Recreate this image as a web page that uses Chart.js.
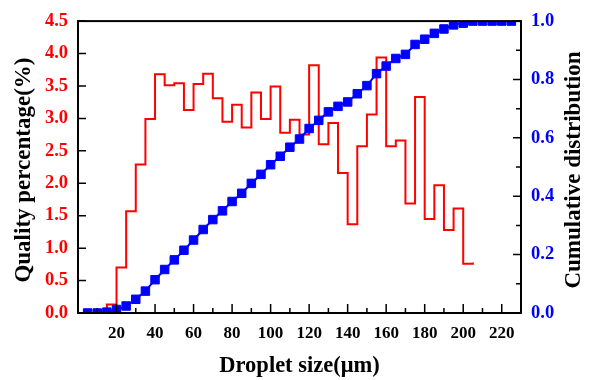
<!DOCTYPE html>
<html lang="en">
<head>
    <meta charset="UTF-8">
    <title>Droplet Size Distribution</title>
    <script src="https://cdn.jsdelivr.net/npm/chart.js"></script>
    <style>
        body {
            margin: 0;
            background: #fff;
        }

        .wrap {
            position: relative;
            width: 589px;
            height: 380px;
        }
    </style>
</head>
<body>

<div class="wrap">
    <canvas id="dropChart"></canvas>
</div>

<script>
    // histogram bins (left edge of each 5 um bin) and their percentage
    const binStart = [5, 10, 15, 20, 25, 30, 35, 40, 45, 50, 55, 60, 65, 70, 75, 80, 85, 90, 95, 100,
                      105, 110, 115, 120, 125, 130, 135, 140, 145, 150, 155, 160, 165, 170, 175, 180,
                      185, 190, 195, 200, 205];
    const qualityPct = [0, 0, 0.13, 0.70, 1.57, 2.29, 2.99, 3.68, 3.51, 3.54, 3.13, 3.53, 3.69, 3.31,
                        2.95, 3.21, 2.86, 3.40, 2.99, 3.49, 2.78, 2.98, 2.75, 3.82, 2.60, 2.93, 2.16,
                        1.37, 2.57, 3.06, 3.94, 2.57, 2.66, 1.69, 3.33, 1.45, 1.97, 1.28, 1.61, 0.76, 0.78];

    // cumulative distribution points
    const sizePoints = [5, 10, 15, 20, 25, 30, 35, 40, 45, 50, 55, 60, 65, 70, 75, 80, 85, 90, 95, 100,
                        105, 110, 115, 120, 125, 130, 135, 140, 145, 150, 155, 160, 165, 170, 175, 180,
                        185, 190, 195, 200, 205, 210, 215, 220, 225];
    const cumDist = [0, 0, 0.003, 0.012, 0.024, 0.047, 0.075, 0.114, 0.149, 0.182, 0.215, 0.25, 0.286,
                     0.32, 0.35, 0.382, 0.41, 0.444, 0.475, 0.508, 0.537, 0.568, 0.596, 0.632, 0.66,
                     0.689, 0.708, 0.723, 0.751, 0.779, 0.82, 0.846, 0.872, 0.886, 0.92, 0.938, 0.958,
                     0.973, 0.987, 0.993, 1.0, 1.0, 1.0, 1.0, 1.0];

    const xTickLabels = [20, 40, 60, 80, 100, 120, 140, 160, 180, 200, 220];
    const rightTickLabels = [0.0, 0.2, 0.4, 0.6, 0.8, 1.0];

    const serif = '"Times New Roman", "Liberation Serif", serif';

    // frame, inward ticks and the two vertical titles
    const frameTicks = {
        id: 'frameTicks',
        afterDatasetsDraw(chart) {
            const c = chart.ctx;
            const a = chart.chartArea;
            c.save();
            c.strokeStyle = '#000';
            c.lineWidth = 2;
            c.strokeRect(a.left, a.top, a.right - a.left, a.bottom - a.top);

            c.lineWidth = 1.5;
            c.beginPath();
            const x = chart.scales.x;
            x.ticks.forEach(t => {
                const px = x.getPixelForValue(t.value);
                const len = t.value % 20 === 0 ? 9 : 5;
                c.moveTo(px, a.bottom);
                c.lineTo(px, a.bottom - len);
            });
            const y = chart.scales.y;
            y.ticks.forEach(t => {
                const py = y.getPixelForValue(t.value);
                c.moveTo(a.left, py);
                c.lineTo(a.left + 8, py);
            });
            const y1 = chart.scales.y1;
            y1.ticks.forEach(t => {
                const py = y1.getPixelForValue(t.value);
                const len = Math.round(t.value * 10) % 2 === 0 ? 8 : 5;
                c.moveTo(a.right, py);
                c.lineTo(a.right - len, py);
            });
            c.stroke();
            c.restore();
        },
        afterDraw(chart) {
            const c = chart.ctx;
            const a = chart.chartArea;
            const midY = (a.top + a.bottom) / 2 + 3;
            c.save();
            c.fillStyle = '#000';
            c.font = 'bold 23px ' + serif;
            c.textAlign = 'center';
            c.textBaseline = 'middle';

            c.translate(24, midY);
            c.rotate(-Math.PI / 2);
            c.fillText('Quality percentage(%)', 0, 0);
            c.restore();

            c.save();
            c.fillStyle = '#000';
            c.font = 'bold 23px ' + serif;
            c.textAlign = 'center';
            c.textBaseline = 'middle';
            c.translate(574, midY);
            c.rotate(-Math.PI / 2);
            c.fillText('Cumulative distribution', 0, 0);
            c.restore();
        }
    };

    const ctx = document.getElementById('dropChart').getContext('2d');
    const dropChart = new Chart(ctx, {
        type: 'line',
        data: {
            datasets: [
                {
                    label: 'Cumulative distribution',
                    data: sizePoints.map((s, i) => ({ x: s, y: cumDist[i] })),
                    yAxisID: 'y1',
                    borderColor: '#0000ff',
                    backgroundColor: '#0000ff',
                    borderWidth: 2,
                    pointStyle: 'rect',
                    pointRadius: 6,
                    pointBorderWidth: 1,
                    order: 0
                },
                {
                    label: 'Quality percentage',
                    data: binStart.map((s, i) => ({ x: s, y: qualityPct[i] })),
                    yAxisID: 'y',
                    stepped: 'before',
                    borderColor: '#ff0000',
                    borderWidth: 2,
                    pointRadius: 0,
                    fill: false,
                    order: 1
                }
            ]
        },
        options: {
            responsive: true,
            maintainAspectRatio: false,
            animation: false,
            layout: {
                padding: { top: 17, left: 0, right: 0, bottom: 0 }
            },
            plugins: {
                legend: { display: false },
                tooltip: { enabled: false }
            },
            scales: {
                x: {
                    type: 'linear',
                    min: 0,
                    max: 230,
                    afterFit: s => { s.height = 67; },
                    grid: { display: false, drawTicks: false },
                    border: { display: false },
                    ticks: {
                        stepSize: 10,
                        autoSkip: false,
                        maxRotation: 0,
                        padding: 10,
                        color: '#000',
                        font: { family: serif, size: 17, weight: 'bold' },
                        callback: v => xTickLabels.includes(v) ? String(v) : ''
                    },
                    title: {
                        display: true,
                        text: 'Droplet size(\u03bcm)',
                        color: '#000',
                        font: { family: serif, size: 22.5, weight: 'bold' },
                        padding: { top: 0, bottom: 0 }
                    }
                },
                y: {
                    position: 'left',
                    min: 0,
                    max: 4.5,
                    afterFit: s => { s.width = 78; },
                    grid: { display: false, drawTicks: false },
                    border: { display: false },
                    ticks: {
                        stepSize: 0.5,
                        padding: 10,
                        color: '#ff0000',
                        font: { family: serif, size: 18.5, weight: 'bold' },
                        callback: v => v.toFixed(1)
                    }
                },
                y1: {
                    position: 'right',
                    min: 0,
                    max: 1,
                    afterFit: s => { s.width = 68; },
                    grid: { display: false, drawTicks: false },
                    border: { display: false },
                    ticks: {
                        stepSize: 0.1,
                        autoSkip: false,
                        padding: 10,
                        color: '#0000ff',
                        font: { family: serif, size: 18.5, weight: 'bold' },
                        callback: v => rightTickLabels.some(r => Math.abs(r - v) < 1e-6) ? v.toFixed(1) : ''
                    }
                }
            }
        },
        plugins: [frameTicks]
    });
</script>

</body>
</html>
